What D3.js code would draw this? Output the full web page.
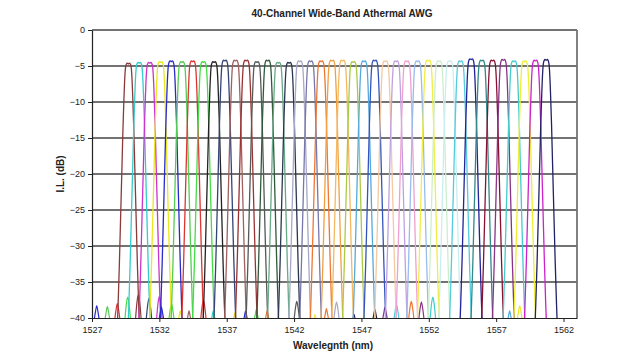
<!DOCTYPE html>
<html lang="en">
<head>
    <meta charset="UTF-8">
    <title>40-Channel Wide-Band Athermal AWG</title>
    <script src="https://d3js.org/d3.v7.min.js"></script>
    <style>
        body { margin: 0; background: #fff; font-family: Arial, "Liberation Sans", sans-serif; }
        svg { display: block; }
        .tick text { font-size: 9px; fill: #222; }
    </style>
</head>
<body>
    <svg width="640" height="358"></svg>
    <script>
        // channel centre wavelengths (nm)
        const centers = [
            1529.70, 1530.50, 1531.29, 1532.09, 1532.88, 1533.68, 1534.47, 1535.27, 1536.06, 1536.86,
            1537.65, 1538.45, 1539.24, 1540.04, 1540.83, 1541.63, 1542.42, 1543.22, 1544.01, 1544.81,
            1545.60, 1546.40, 1547.19, 1547.99, 1548.78, 1549.58, 1550.37, 1551.17, 1551.96, 1552.76,
            1553.55, 1554.35, 1555.14, 1555.94, 1556.73, 1557.53, 1558.32, 1559.12, 1559.91, 1560.71
        ];
        // peak insertion loss (dB) per channel
        const peaks = [
            -4.6, -4.5, -4.5, -4.4, -4.3, -4.4, -4.3, -4.4, -4.4, -4.2,
            -4.2, -4.2, -4.4, -4.2, -4.5, -4.5, -4.3, -4.3, -4.3, -4.2,
            -4.2, -4.4, -4.3, -4.2, -4.3, -4.3, -4.3, -4.3, -4.2, -4.3,
            -4.3, -4.3, -4.0, -4.2, -4.2, -4.1, -4.3, -4.3, -4.2, -4.1
        ];
        const colors = [
            "#8b3a3a", "#33cccc", "#cc33cc", "#e8e820", "#2a2acc", "#55cc55", "#dd3333", "#44dd44", "#222222", "#334477",
            "#a06060", "#993333", "#555a55", "#2f5a3a", "#66aa88", "#2a3550", "#a8a8c8", "#7777aa", "#ee7733", "#f0a040",
            "#f5b860", "#aacc44", "#55aadd", "#3355bb", "#f5c8a0", "#c0a0e0", "#eea0d0", "#99bbee", "#eeee44", "#cceecc",
            "#c8eef0", "#55ccdd", "#222299", "#338888", "#881133", "#883388", "#44cccc", "#eeee33", "#cc22cc", "#222266"
        ];
        // passband shape: offset from centre (nm) vs loss relative to peak (dB)
        const shapeOffset = [0, 0.08, 0.15, 0.21, 0.25, 0.29, 0.33, 0.40, 0.47, 0.57, 0.67, 0.77, 0.89, 1.00];
        const shapeLoss   = [-0.1, 0, -0.15, -0.6, -1.5, -3, -5, -9, -14, -21, -28, -34, -40, -45];
        // crosstalk bumps near the floor: wavelength, peak dB, colour index
        const bumpWl   = [1527.35, 1528.14, 1528.88, 1529.65, 1530.44, 1531.23, 1532.00, 1532.15, 1532.90, 1533.55, 1534.20, 1535.27, 1536.00, 1537.60, 1538.40, 1539.20, 1540.00, 1542.20, 1543.55, 1544.40, 1545.15, 1546.45, 1548.00, 1548.75, 1549.60, 1550.70, 1551.45, 1552.30, 1558.00, 1558.75];
        const bumpDb   = [-38.3, -38.4, -38.0, -37.1, -36.8, -37.3, -37.0, -38.5, -38.0, -39.0, -39.0, -37.5, -39.0, -39.3, -39.0, -38.8, -39.0, -37.7, -39.5, -38.7, -37.8, -39.5, -38.8, -38.5, -38.1, -37.7, -37.8, -37.1, -39.0, -38.3];
        const bumpColor = [4, 5, 6, 7, 0, 9, 2, 4, 7, 3, 10, 6, 1, 3, 4, 7, 18, 12, 28, 18, 16, 39, 8, 35, 31, 18, 35, 36, 22, 3];
        const xTicks = [1527, 1532, 1537, 1542, 1547, 1552, 1557, 1562];
        const yTicks = [0, -5, -10, -15, -20, -25, -30, -35, -40];

        const svg = d3.select("svg");
        const plotL = 92, plotR = 577, plotT = 30, plotB = 318;

        const x = d3.scaleLinear().domain([1527, 1563]).range([plotL, plotR]);
        const y = d3.scaleLinear().domain([0, -40]).range([plotT, plotB]);

        svg.append("clipPath").attr("id", "plot")
            .append("rect").attr("x", plotL).attr("y", plotT)
            .attr("width", plotR - plotL).attr("height", plotB - plotT);

        // horizontal grid
        svg.append("g")
            .selectAll("line")
            .data(yTicks.filter(d => d > -40))
            .join("line")
            .attr("x1", plotL).attr("x2", plotR)
            .attr("y1", d => y(d)).attr("y2", d => y(d))
            .attr("stroke", "#737373").attr("stroke-width", 1.8);

        // right border
        svg.append("line")
            .attr("x1", plotR).attr("x2", plotR).attr("y1", plotT).attr("y2", plotB)
            .attr("stroke", "#737373").attr("stroke-width", 1.8);

        const line = d3.line()
            .x(d => x(d[0])).y(d => y(d[1]))
            .curve(d3.curveMonotoneX);

        const plot = svg.append("g").attr("clip-path", "url(#plot)");

        // channel passbands
        const channels = centers.map((c, i) => {
            const pts = [];
            for (let k = shapeOffset.length - 1; k > 0; k--) pts.push([c - shapeOffset[k], peaks[i] + shapeLoss[k]]);
            for (let k = 0; k < shapeOffset.length; k++) pts.push([c + shapeOffset[k], peaks[i] + shapeLoss[k]]);
            return { color: colors[i], pts };
        });

        // crosstalk bumps
        const bumps = bumpWl.map((w, i) => ({
            color: colors[bumpColor[i]],
            pts: [[w - 0.24, -41], [w - 0.09, bumpDb[i] - 0.8], [w, bumpDb[i]], [w + 0.09, bumpDb[i] - 0.8], [w + 0.24, -41]]
        }));

        plot.selectAll("path.bump")
            .data(bumps)
            .join("path")
            .attr("class", "bump")
            .attr("d", d => line(d.pts))
            .attr("fill", "none")
            .attr("stroke", d => d.color)
            .attr("stroke-width", 1.2);

        plot.selectAll("path.ch")
            .data(channels)
            .join("path")
            .attr("class", "ch")
            .attr("d", d => line(d.pts))
            .attr("fill", "none")
            .attr("stroke", d => d.color)
            .attr("stroke-width", 1.3);

        // axes
        const xAxis = svg.append("g")
            .attr("transform", `translate(0,${plotB})`)
            .call(d3.axisBottom(x).tickValues(xTicks).tickFormat(d3.format("d")).tickSize(4).tickPadding(5).tickSizeOuter(0));
        xAxis.select(".domain").attr("stroke", "#222").attr("stroke-width", 1.2);
        xAxis.selectAll(".tick line").attr("stroke", "#222");

        const yAxis = svg.append("g")
            .attr("transform", `translate(${plotL},0)`)
            .call(d3.axisLeft(y).tickValues(yTicks).tickFormat(d3.format("d")).tickSize(4).tickPadding(3).tickSizeOuter(0));
        yAxis.select(".domain").attr("stroke", "#222").attr("stroke-width", 1.2);
        yAxis.selectAll(".tick line").attr("stroke", "#222");

        // titles
        svg.append("text")
            .attr("x", 342).attr("y", 17)
            .attr("text-anchor", "middle")
            .attr("font-size", 10).attr("font-weight", "bold").attr("fill", "#222")
            .text("40-Channel Wide-Band Athermal AWG");

        svg.append("text")
            .attr("x", 333).attr("y", 349)
            .attr("text-anchor", "middle")
            .attr("font-size", 10).attr("font-weight", "bold").attr("fill", "#222")
            .text("Wavelegnth (nm)");

        svg.append("text")
            .attr("transform", "translate(64,174) rotate(-90)")
            .attr("text-anchor", "middle")
            .attr("font-size", 10).attr("font-weight", "bold").attr("fill", "#222")
            .text("I.L. (dB)");
    </script>
</body>
</html>
